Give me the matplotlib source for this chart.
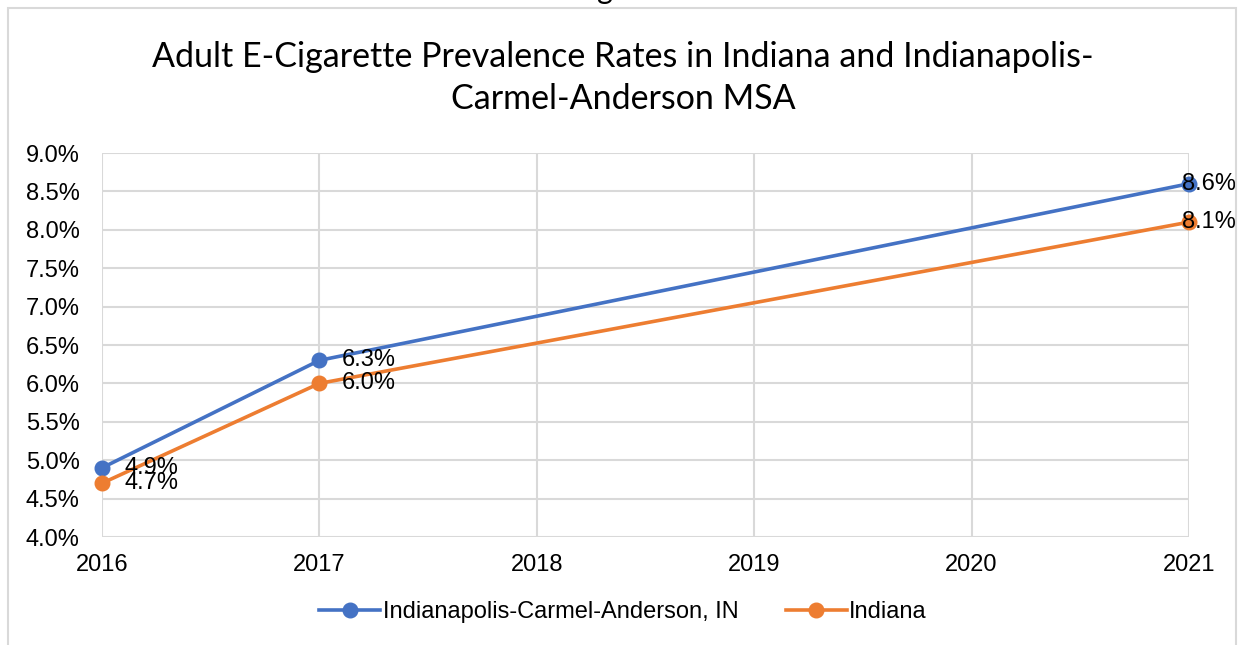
import matplotlib
matplotlib.use("Agg")
import matplotlib.pyplot as plt
from matplotlib.patches import Rectangle
from matplotlib.ticker import FuncFormatter

years = [2016, 2017, 2021]
msa = [4.9, 6.3, 8.6]
indiana = [4.7, 6.0, 8.1]
msa_name = "Indianapolis-Carmel-Anderson, IN"
state_name = "Indiana"
title = "Adult E-Cigarette Prevalence Rates in Indiana and Indianapolis-\nCarmel-Anderson MSA"

blue = "#4472C4"
orange = "#ED7D31"
grid = "#d9d9d9"

plt.rcParams['font.family'] = ['Liberation Sans', 'DejaVu Sans']

W, H = 1246, 645
fig = plt.figure(figsize=(W / 100, H / 100), dpi=100)
ax = fig.add_axes([102 / W, 1 - 537 / H, (1189 - 102) / W, (537 - 153) / H])

# chart frame + cut-off text above it
fig.patches.append(Rectangle((8 / W, -0.1), (1236 - 8) / W, 1.1 - 8 / H,
                             transform=fig.transFigure, fill=False,
                             edgecolor=grid, linewidth=1.5))
fig.text(605 / W, 1 + 1 / H, "g", fontsize=22, ha='center', va='baseline',
         family=['Lato', 'DejaVu Sans'])

ax.plot(years, msa, color=blue, lw=2.6, marker='o', ms=10.5, label=msa_name,
        clip_on=False, zorder=3)
ax.plot(years, indiana, color=orange, lw=2.6, marker='o', ms=10.5, label=state_name,
        clip_on=False, zorder=3)

for series in (msa, indiana):
    for x, y in zip(years, series):
        dx = -5 if x == years[-1] else 16
        ax.annotate(f"{y:.1f}%", (x, y), xytext=(dx, 0), textcoords='offset points',
                    ha='left', va='center', fontsize=17, zorder=4)

ax.set_xlim(2016, 2021)
ax.set_ylim(4.0, 9.0)
ax.set_xticks(range(2016, 2022))
ax.set_yticks([4.0 + 0.5 * i for i in range(11)])
ax.yaxis.set_major_formatter(FuncFormatter(lambda v, p: f"{v:.1f}%"))
ax.tick_params(length=0, labelsize=17, colors='black')
ax.tick_params(axis='y', pad=16)
ax.tick_params(axis='x', pad=12)
ax.grid(True, color=grid, lw=1.5)
ax.set_axisbelow(True)
for s in ax.spines.values():
    s.set_visible(False)

fig.text(0.5, 1 - 78 / H, title, ha='center', va='center', fontsize=24.5,
         family=['Lato', 'DejaVu Sans'], linespacing=1.42)

fig.legend(loc='center', bbox_to_anchor=(0.5, 1 - 612 / H), ncol=2, frameon=False,
           fontsize=17, handlelength=2.6, columnspacing=2.0, handletextpad=0.1)

fig.savefig("out.png", dpi=100)
